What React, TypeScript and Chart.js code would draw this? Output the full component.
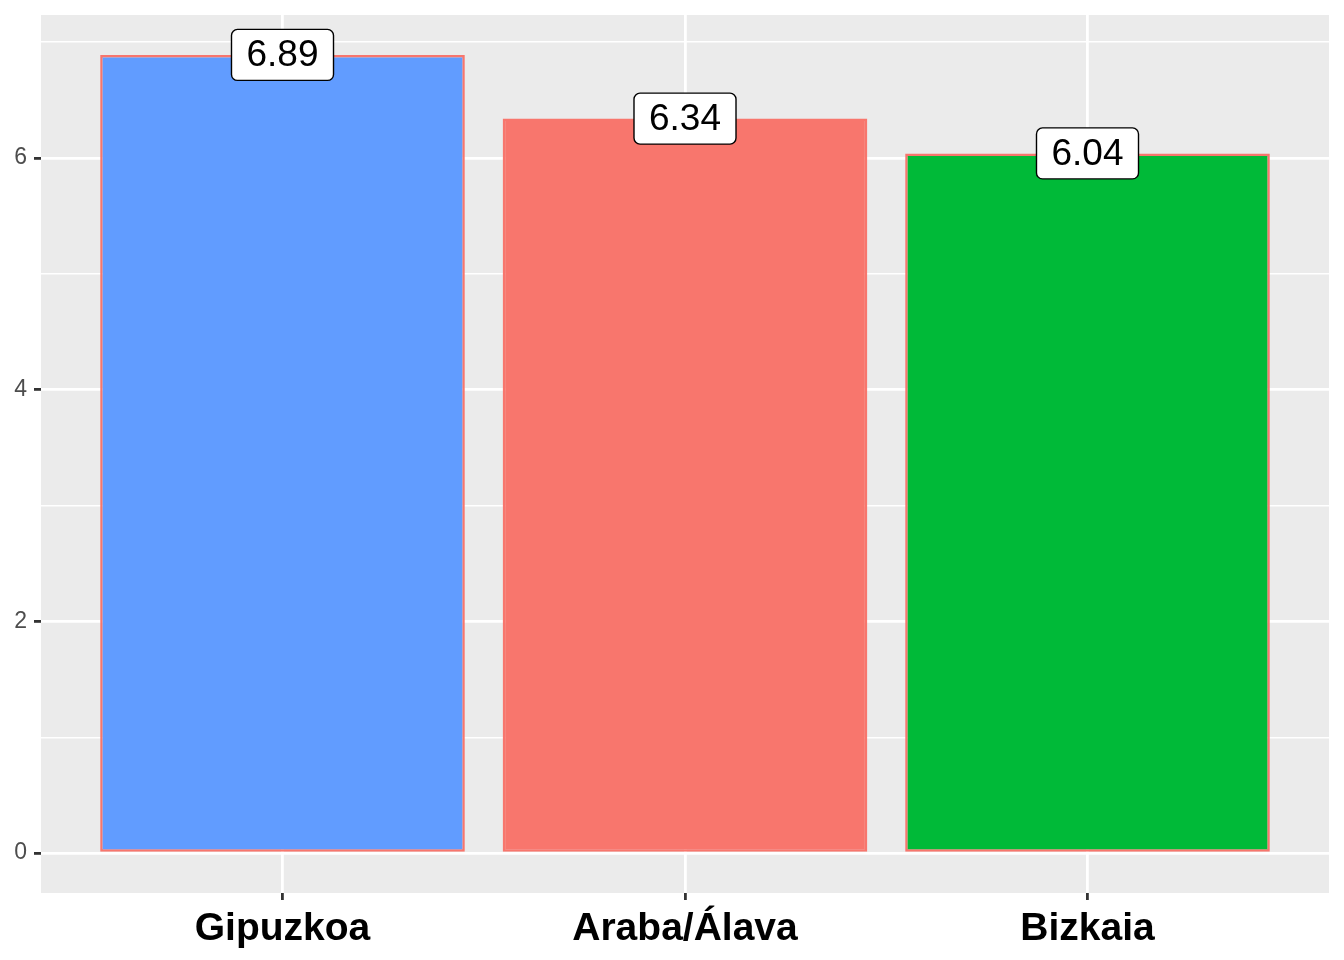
import React, { useEffect, useRef } from "react";
import { Chart, registerables } from "chart.js";

Chart.register(...registerables);

const categories = ["Gipuzkoa", "Araba/Álava", "Bizkaia"];
const values = [6.89, 6.34, 6.04];
const barColors = ["#619CFF", "#F8766D", "#00BA38"];
const yTickValues = [0, 1, 2, 3, 4, 5, 6, 7];
const yLabelValues = [0, 2, 4, 6];

const FONT = "'Liberation Sans', Arial, Helvetica, sans-serif";

const panelPlugin = {
  id: "panelBg",
  beforeDraw(chart: any) {
    const { ctx, chartArea } = chart;
    ctx.save();
    ctx.fillStyle = "#EBEBEB";
    ctx.fillRect(chartArea.left, chartArea.top, chartArea.right - chartArea.left, chartArea.bottom - chartArea.top);
    ctx.restore();
  },
};

const labelPlugin = {
  id: "valueLabels",
  afterDatasetsDraw(chart: any) {
    const { ctx } = chart;
    const meta = chart.getDatasetMeta(0);
    const yScale = chart.scales.y;
    ctx.save();
    ctx.font = `37px ${FONT}`;
    ctx.textAlign = "center";
    ctx.textBaseline = "middle";
    meta.data.forEach((el: any, i: number) => {
      const v = values[i];
      const text = v.toFixed(2);
      const cx = el.x;
      const cy = yScale.getPixelForValue(v);
      const tw = ctx.measureText(text).width;
      const w = tw + 30;
      const h = 51;
      const x0 = cx - w / 2;
      const y0 = cy - h / 2;
      ctx.beginPath();
      ctx.roundRect(x0, y0, w, h, 6);
      ctx.fillStyle = "#FFFFFF";
      ctx.fill();
      ctx.lineWidth = 1.4;
      ctx.strokeStyle = "#000000";
      ctx.stroke();
      ctx.fillStyle = "#000000";
      ctx.fillText(text, cx, cy + 1);
    });
    ctx.restore();
  },
};

export default function App() {
  const ref = useRef<HTMLCanvasElement | null>(null);
  useEffect(() => {
    document.body.style.margin = "0";
    const canvas = ref.current!;
    const chart = new Chart(canvas, {
      type: "bar",
      data: {
        datasets: [
          {
            data: categories.map((c, i) => ({ x: i + 1, y: values[i] })),
            backgroundColor: barColors,
            borderColor: "#F8766D",
            borderWidth: 2.5,
            borderSkipped: false,
            barPercentage: 0.906,
            categoryPercentage: 1,
          },
        ],
      },
      plugins: [panelPlugin, labelPlugin],
      options: {
        animation: false,
        responsive: false,
        devicePixelRatio: 1,
        layout: { padding: { top: 15, right: 15, left: 0, bottom: 0 } },
        plugins: { legend: { display: false }, tooltip: { enabled: false } },
        scales: {
          x: {
            type: "linear",
            min: 0.4,
            max: 3.6,
            offset: false,
            afterBuildTicks(scale: any) {
              scale.ticks = categories.map((_, i) => ({ value: i + 1 }));
            },
            afterFit(scale: any) {
              scale.height = 67;
              scale.paddingLeft = 0;
              scale.paddingRight = 0;
            },
            border: { display: false },
            grid: {
              offset: false,
              color: "#FFFFFF",
              lineWidth: 2.8,
              tickColor: "#333333",
              tickWidth: 2.8,
              tickLength: 7,
            },
            ticks: {
              autoSkip: false,
              maxRotation: 0,
              padding: 6,
              color: "#000000",
              font: { family: FONT, size: 39, weight: "bold" },
              callback: (v: any) => categories[Math.round(v) - 1] ?? "",
            },
          },
          y: {
            type: "linear",
            min: -0.3445,
            max: 7.2345,
            afterBuildTicks(scale: any) {
              scale.ticks = yTickValues.map((v) => ({ value: v }));
            },
            afterFit(scale: any) {
              scale.width = 41;
              scale.paddingTop = 0;
              scale.paddingBottom = 0;
            },
            border: { display: false },
            grid: {
              color: "#FFFFFF",
              lineWidth: (c: any) => (c.tick && yLabelValues.includes(c.tick.value) ? 2.8 : 1.4),
              tickColor: (c: any) => (c.tick && yLabelValues.includes(c.tick.value) ? "#333333" : "rgba(0,0,0,0)"),
              tickWidth: 2.8,
              tickLength: 7,
            },
            ticks: {
              autoSkip: false,
              padding: 7,
              color: "#4D4D4D",
              font: { family: FONT, size: 23 },
              callback: (v: any) => (yLabelValues.includes(v) ? String(v) : ""),
            },
          },
        },
      },
    } as any);
    return () => chart.destroy();
  }, []);
  return <canvas ref={ref} width={1344} height={960} style={{ display: "block" }} />;
}
